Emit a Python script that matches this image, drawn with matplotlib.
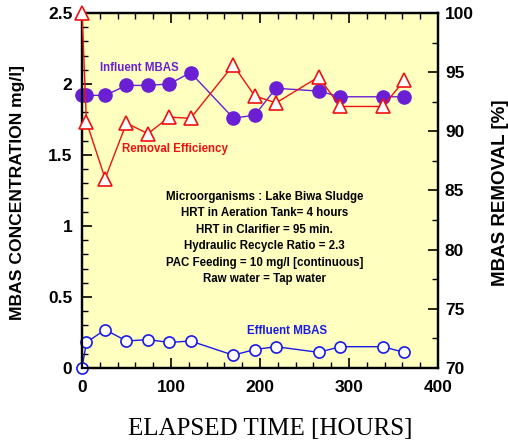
import matplotlib.pyplot as plt
from matplotlib.ticker import MultipleLocator

# Elapsed time of each sample [hours]
hours = [0, 5, 26, 50, 74, 98, 122, 170, 194, 218, 266, 290, 338, 362]

# MBAS concentrations [mg/l]
influent_mbas = [1.92, 1.92, 1.92, 1.99, 1.99, 2.00, 2.08, 1.76, 1.78, 1.97, 1.95, 1.91, 1.91, 1.91]
effluent_mbas = [0.0, 0.18, 0.27, 0.19, 0.20, 0.18, 0.19, 0.09, 0.13, 0.15, 0.11, 0.15, 0.15, 0.11]

# MBAS removal efficiency [%]
removal = [100.0, 90.8, 86.0, 90.7, 89.8, 91.2, 91.1, 95.6, 93.0, 92.4, 94.6, 92.1, 92.1, 94.3]

notes = [
    'Microorganisms : Lake Biwa Sludge',
    'HRT in Aeration Tank= 4 hours',
    'HRT in Clarifier = 95 min.',
    'Hydraulic Recycle Ratio = 2.3',
    'PAC Feeding = 10 mg/l [continuous]',
    'Raw water = Tap water',
]

plt.rcParams['font.family'] = ['Liberation Sans', 'DejaVu Sans']

purple = '#6a1fd4'
red = '#ee1111'
blue = '#1a1ae6'

fig = plt.figure(figsize=(5.08, 4.48), dpi=100)
ax = fig.add_axes([0.1614, 0.1786, 0.7008, 0.7924])
ax.set_facecolor('#ffffc0')
ax2 = ax.twinx()
# left axes (with the yellow panel) underneath, removal curve on top
ax.set_zorder(1)
ax2.set_zorder(2)
ax2.patch.set_visible(False)

ax.set_xlim(0, 400)
ax.set_ylim(0, 2.5)
ax2.set_ylim(70, 100)

# Concentration series on the left axis
ax.plot(hours, influent_mbas, '-o', color=purple, lw=1.0, ms=9.5,
        mfc=purple, mec=purple, clip_on=False, zorder=4)
ax.plot(hours, effluent_mbas, '-o', color=blue, lw=1.0, ms=8,
        mfc='white', mec=blue, mew=1.2, clip_on=False, zorder=4)

# Removal efficiency on the right axis
ax2.plot(hours, removal, '-^', color=red, lw=1.0, ms=10,
         mfc='white', mec=red, mew=1.2, clip_on=False, zorder=3)

# Ticks
ax.xaxis.set_major_locator(MultipleLocator(100))
ax.xaxis.set_minor_locator(MultipleLocator(20))
ax.yaxis.set_minor_locator(MultipleLocator(0.1))
ax2.yaxis.set_major_locator(MultipleLocator(5))
ax2.yaxis.set_minor_locator(MultipleLocator(2.5))

ax.tick_params(axis='x', which='both', direction='in', top=True, bottom=True)
ax.tick_params(axis='y', which='both', direction='in', left=True, right=False)
ax.tick_params(which='major', length=7, width=1.2)
ax.tick_params(which='minor', length=4, width=1.0)
ax2.tick_params(axis='y', which='major', direction='in', length=7, width=1.2)
ax2.tick_params(axis='y', which='minor', direction='in', length=4, width=1.0)

ax.set_yticks([0, 0.5, 1, 1.5, 2, 2.5])
ax.set_yticklabels(['0', '0.5', '1', '1.5', '2', '2.5'])

for a in (ax, ax2):
    for lab in a.get_xticklabels() + a.get_yticklabels():
        lab.set_fontsize(12.5)
        lab.set_fontweight('bold')
    for sp in a.spines.values():
        sp.set_linewidth(1.6)
ax.tick_params(axis='x', pad=9)
ax.tick_params(axis='y', pad=7)
ax2.tick_params(axis='y', pad=5)

ax.set_ylabel('MBAS CONCENTRATION mg/l]', fontsize=12.6, fontweight='bold')
ax.yaxis.set_label_coords(-0.16, 0.495)
ax2.set_ylabel('MBAS REMOVAL [%]', fontsize=13.5, fontweight='bold')
ax2.yaxis.set_label_coords(1.152, 0.495)
ax.set_xlabel('ELAPSED TIME [HOURS]', fontsize=18, family='Liberation Serif')
ax.xaxis.set_label_coords(0.53, -0.14)

# Series labels
ax.text(65, 2.11, 'Influent MBAS', color=purple, fontsize=8.3, fontweight='bold',
        ha='center', va='center')
ax.text(104, 1.54, 'Removal Efficiency', color=red, fontsize=8.3, fontweight='bold',
        ha='center', va='center')
ax.text(230, 0.26, 'Effluent MBAS', color=blue, fontsize=8.3, fontweight='bold',
        ha='center', va='center')

# Operating conditions
ax.text(205, 0.915, '\n'.join(notes), fontsize=8.3, fontweight='bold',
        ha='center', va='center', linespacing=1.5)

fig.savefig('out.png', dpi=100)
